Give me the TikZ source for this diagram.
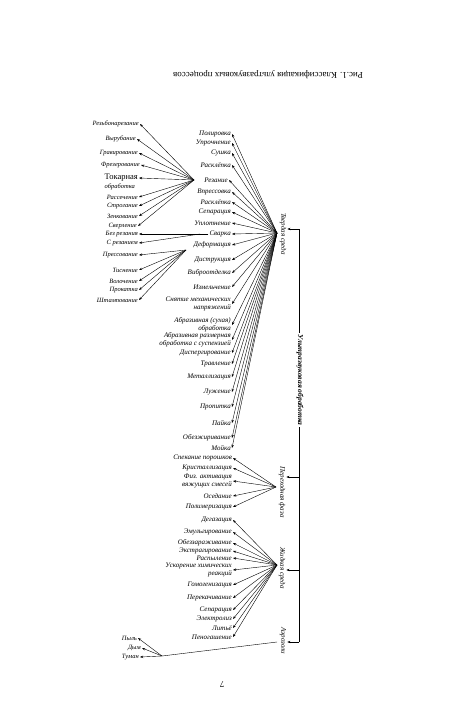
\documentclass[tikz,border=0pt]{standalone}
\usepackage{fontspec}
\setmainfont{Liberation Serif}
\usetikzlibrary{arrows.meta}
\begin{document}
\begin{tikzpicture}[x=1pt,y=-1pt,
  itm/.style={font=\fontsize{7}{7.8}\selectfont\itshape, inner sep=1pt, align=right, anchor=east},
  litm/.style={font=\fontsize{6.5}{7.5}\selectfont\itshape, inner sep=1pt, align=right, anchor=east},
  cat/.style={font=\fontsize{7}{8}\selectfont\itshape, inner sep=1pt, rotate=-90},
  arr/.style={-{Stealth[length=3.2pt,width=2.4pt]}, line width=0.4pt},
  ln/.style={line width=0.4pt}]
\useasboundingbox (0,0) rectangle (450,715);
\node[font=\fontsize{9}{10}\selectfont, rotate=180] (title) at (268,75) {Рис.1. Классификация ультразвуковых процессов};

% ---- middle column (solid medium)
\node[itm] (m1) at (232,134) {Полировка};
\node[itm] (m2) at (232,143) {Упрочнение};
\node[itm] (m3) at (232,153) {Сушка};
\node[itm] (m4) at (232,165) {Расклёпка};
\node[itm] (m5) at (229,180) {Резание};
\node[itm] (m6) at (232,192) {Впрессовка};
\node[itm] (m7) at (232,202) {Расклёпка};
\node[itm] (m8) at (232,212) {Сепарация};
\node[itm] (m9) at (232,223) {Уплотнение};
\node[itm] (m10) at (232,234) {Сварка};
\node[itm] (m11) at (232,245) {Деформация};
\node[itm] (m12) at (232,260) {Диструкция};
\node[itm] (m13) at (232,273) {Виброотделка};
\node[itm] (m14) at (232,287) {Измельчение};
\node[itm] (m15) at (232,304) {Снятие механических\\напряжений};
\node[itm] (m16) at (232,325) {Абразивная (сухая)\\обработка};
\node[itm] (m17) at (232,340) {Абразивная размерная\\обработка с суспензией};
\node[itm] (m18) at (232,353) {Диспергирование};
\node[itm] (m19) at (232,364) {Травление};
\node[itm] (m20) at (232,377) {Металлизация};
\node[itm] (m21) at (232,392) {Лужение};
\node[itm] (m22) at (232,407) {Пропитка};
\node[itm] (m23) at (232,423) {Пайка};
\node[itm] (m24) at (232,438) {Обезжиривание};
\node[itm] (m25) at (232,448) {Мойка};

% ---- left column
\node[litm] (l1) at (140,124) {Резьбонарезание};
\node[litm] (l2) at (137,139) {Вырубание};
\node[litm] (l3) at (139,153) {Гравирование};
\node[litm] (l4) at (141,165) {Фрезерование};
\node[font=\fontsize{8.5}{9}\selectfont, inner sep=1pt, anchor=east] (l5) at (139,178) {Токарная};
\node[font=\fontsize{6.5}{7.5}\selectfont\itshape, inner sep=1pt, anchor=west] (l5b) at (l5.west |- 0,187) {обработка};
\node[litm] (l6) at (139,197) {Рассечение};
\node[litm] (l7) at (139,206) {Строгание};
\node[litm] (l8) at (139,216) {Зенкование};
\node[litm] (l9) at (138,226) {Сверление};
\node[litm] (l10) at (139,234) {Без резания};
\node[litm] (l11) at (139,243) {С резанием};
\node[litm] (l12) at (139,255) {Прессование};
\node[litm] (l13) at (139,270) {Тиснение};
\node[litm] (l14) at (139,281) {Волочение};
\node[litm] (l15) at (139,290) {Прокатка};
\node[litm] (l16) at (139,300) {Штампование};

% ---- transitional phase
\node[itm] (p1) at (233,458) {Спекание порошков};
\node[itm] (p2) at (233,468) {Кристаллизация};
\node[itm] (p3) at (233,481) {Физ. активация\\вяжущих смесей};
\node[itm] (p4) at (233,496) {Оседание};
\node[itm] (p5) at (233,507) {Полимеризация};

% ---- liquid medium
\node[itm] (z1) at (233,520) {Дегазация};
\node[itm] (z2) at (233,532) {Эмульгирование};
\node[itm] (z3) at (233,543) {Обеззараживание};
\node[itm] (z4) at (233,551) {Экстрагирование};
\node[itm] (z5) at (233,558) {Распыление};
\node[itm] (z6) at (233,570) {Ускорение химических\\реакций};
\node[itm] (z7) at (233,585) {Гомогенизация};
\node[itm] (z8) at (233,598) {Перекачивание};
\node[itm] (z9) at (233,610) {Сепарация};
\node[itm] (z10) at (233,619) {Электролиз};
\node[itm] (z11) at (233,628) {Литьё};
\node[itm] (z12) at (233,637) {Пеногашение};

% ---- aerosols
\node[litm] (a1) at (138,638) {Пыль};
\node[litm] (a2) at (142,648) {Дым};
\node[litm] (a3) at (140,657) {Туман};

% ---- categories
\node[cat] (tv) at (283,234) {Твердая среда};
\node[cat] (pf) at (282,492) {Переходная фаза};
\node[cat] (zs) at (282,568) {Жидкая среда};
\node[cat] (ae) at (283,641) {Аэрозоли};

% fan origins
\coordinate (ts) at (277,233);
\coordinate (pfo) at (276,487);
\coordinate (zso) at (277,565);
\coordinate (rz) at (194,180);
\coordinate (sv) at (200,234);
\coordinate (df) at (186,250);
\coordinate (ao) at (162,656);
\coordinate (aen) at (277,642);

% spine
\coordinate (b1) at (299,229);
\coordinate (b2) at (299,477);
\coordinate (b3) at (299,570);
\coordinate (b4) at (299,642);
\draw[ln] (b1) -- (b4);
\node[font=\fontsize{7.5}{9}\selectfont\bfseries\itshape, rotate=-90, fill=white, inner sep=2pt] (uz) at (300,380) {Ультразвуковая обработка};
\draw[arr] (b1) -- (b1 -| tv.north);
\draw[arr] (b2) -- (b2 -| pf.north);
\draw[arr] (b3) -- (b3 -| zs.north);
\draw[arr] (b4) -- (b4 -| ae.north);

% fans
\foreach \i in {1,...,25} \draw[arr] (ts) -- (m\i.east);
\foreach \i in {1,...,4} \draw[arr] (rz) -- (l\i.east);
\draw[arr] (rz) -- (l5.east);
\foreach \i in {6,...,9} \draw[arr] (rz) -- (l\i.east);
\foreach \i in {10,11} \draw[arr] (sv) -- (l\i.east);
\draw[ln] (m10.west) -- (sv);
\foreach \i in {12,...,16} \draw[arr] (df) -- (l\i.east);
\foreach \i in {1,...,5} \draw[arr] (pfo) -- (p\i.east);
\foreach \i in {1,...,12} \draw[arr] (zso) -- (z\i.east);
\draw[ln] (aen) -- (ao);
\foreach \i in {1,2,3} \draw[arr] (ao) -- (a\i.east);

\node[rotate=180, font=\fontsize{9}{10}\selectfont] (pg) at (222,684) {7};
\end{tikzpicture}
\end{document}
